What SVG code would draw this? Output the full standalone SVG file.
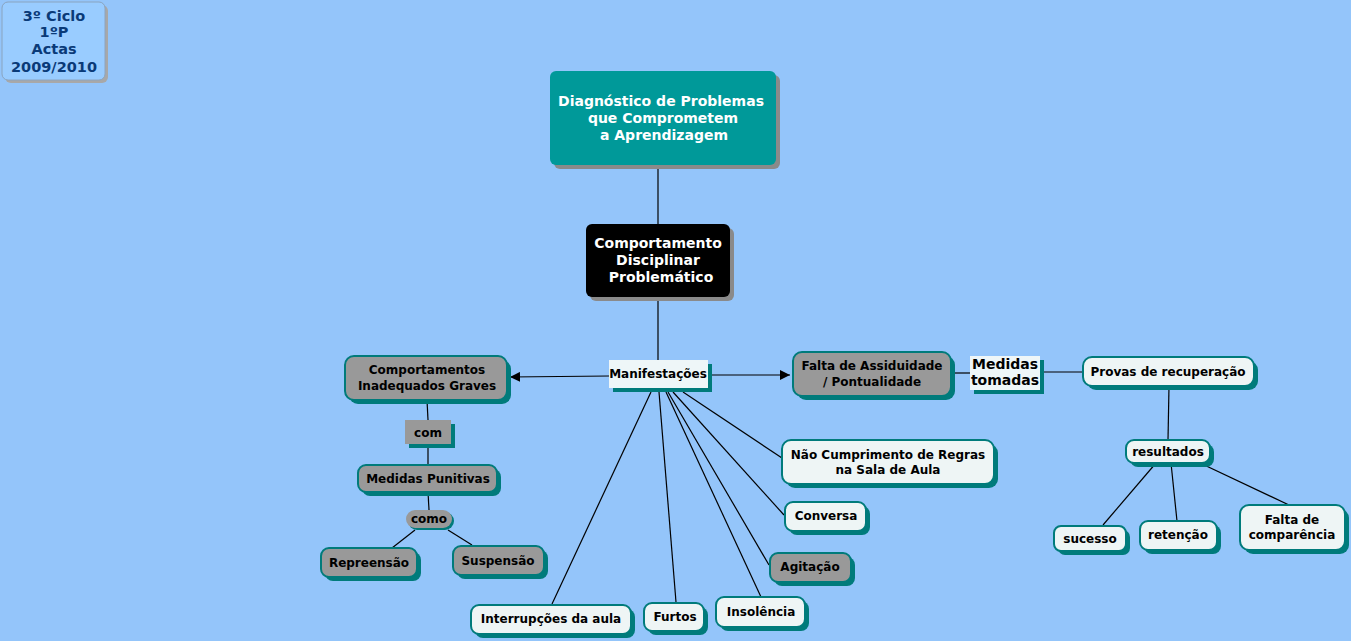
<svg xmlns="http://www.w3.org/2000/svg" width="1351" height="641" viewBox="0 0 1351 641">
<defs>
<style>
text{font-family:"DejaVu Sans",Verdana,sans-serif;font-weight:bold;text-anchor:middle}
.t{font-size:12px;fill:#000}
.w{font-size:14px;fill:#fff}
.n{fill:#eef5f5;stroke:#007b7b;stroke-width:2}
.g{fill:#999999;stroke:#007b7b;stroke-width:2}
.sh{fill:#007b7b}
.gs{fill:#8a8a8a}
.c line{stroke:#000;stroke-width:1.2}
</style>
<marker id="ar" viewBox="0 0 10 10" refX="10" refY="5" markerWidth="10" markerHeight="10" markerUnits="userSpaceOnUse" orient="auto"><path d="M0,0L10,5L0,10z" fill="#000"/></marker>
</defs>
<rect width="1351" height="641" fill="#94c5fa"/>

<g id="connectors" class="c">
<line x1="658" y1="165" x2="658" y2="224"/>
<line x1="658" y1="297" x2="658" y2="360"/>
<line x1="609" y1="376" x2="510" y2="377" marker-end="url(#ar)"/>
<line x1="708" y1="375" x2="790" y2="375" marker-end="url(#ar)"/>
<line x1="951" y1="373" x2="972" y2="373"/>
<line x1="1040" y1="372" x2="1083" y2="372"/>
<line x1="1169" y1="386" x2="1168" y2="440"/>
<line x1="1156" y1="463" x2="1103" y2="525"/>
<line x1="1171" y1="463" x2="1177" y2="521"/>
<line x1="1200" y1="463" x2="1289" y2="505"/>
<line x1="427" y1="400" x2="428" y2="420"/>
<line x1="428" y1="444" x2="428" y2="465"/>
<line x1="428" y1="492" x2="429" y2="510"/>
<line x1="415" y1="530" x2="392" y2="548"/>
<line x1="448" y1="530" x2="472" y2="545"/>
<line x1="651" y1="392" x2="552" y2="604"/>
<line x1="659" y1="392" x2="676" y2="602"/>
<line x1="666" y1="392" x2="761" y2="597"/>
<line x1="668" y1="392" x2="769" y2="565"/>
<line x1="673" y1="392" x2="784" y2="515"/>
<line x1="683" y1="392" x2="782" y2="458"/>
</g>

<g id="header">
<rect x="5" y="5" width="103" height="78" rx="6" fill="#a8a8a8"/>
<rect x="2" y="2" width="103" height="78" rx="6" fill="#99ccff" stroke="#8aa4c0" stroke-width="1"/>
<text x="54" y="21" style="font-size:14.5px;fill:#0a3a78">3º Ciclo</text>
<text x="54" y="37" style="font-size:14.5px;fill:#0a3a78">1ºP</text>
<text x="54" y="54" style="font-size:14.5px;fill:#0a3a78">Actas</text>
<text x="54" y="72" style="font-size:14.5px;fill:#0a3a78">2009/2010</text>
</g>

<g id="diagnostico">
<rect class="gs" x="554" y="75" width="226" height="94" rx="6"/>
<rect x="550" y="71" width="226" height="94" rx="6" fill="#009999"/>
<text class="w" x="661" y="106">Diagnóstico de Problemas</text>
<text class="w" x="663" y="123">que Comprometem</text>
<text class="w" x="664" y="140">a Aprendizagem</text>
</g>

<g id="comportamento">
<rect class="gs" x="590" y="228" width="144" height="73" rx="6"/>
<rect x="586" y="224" width="144" height="73" rx="6" fill="#000"/>
<text class="w" x="658" y="248">Comportamento</text>
<text class="w" x="658" y="265">Disciplinar</text>
<text class="w" x="661" y="282">Problemático</text>
</g>

<g id="manifestacoes">
<rect class="sh" x="613" y="364" width="99" height="28"/>
<rect x="609" y="360" width="99" height="28" fill="#eef6f8"/>
<text class="t" x="658" y="378">Manifestações</text>
</g>

<g id="inadequados">
<rect class="sh" x="349" y="360" width="162" height="44" rx="9"/>
<rect class="g" x="345" y="356" width="162" height="44" rx="9"/>
<text class="t" x="427" y="374">Comportamentos</text>
<text class="t" x="427" y="390">Inadequados Graves</text>
</g>

<g id="com">
<rect class="sh" x="409" y="424" width="46" height="24"/>
<rect x="405" y="420" width="46" height="24" fill="#999999"/>
<text class="t" x="428" y="437">com</text>
</g>

<g id="punitivas">
<rect class="sh" x="362" y="469" width="139" height="27" rx="8"/>
<rect class="g" x="358" y="465" width="139" height="27" rx="8"/>
<text class="t" x="428" y="483">Medidas Punitivas</text>
</g>

<g id="como">
<rect class="sh" x="408" y="512" width="46" height="18" rx="9"/>
<rect x="406" y="510" width="46" height="18" rx="9" fill="#999999"/>
<text class="t" x="429" y="523">como</text>
</g>

<g id="repreensao">
<rect class="sh" x="325" y="552" width="96" height="29" rx="8"/>
<rect class="g" x="321" y="548" width="96" height="29" rx="8"/>
<text class="t" x="369" y="567">Repreensão</text>
</g>

<g id="suspensao">
<rect class="sh" x="457" y="550" width="91" height="29" rx="8"/>
<rect class="g" x="453" y="546" width="91" height="29" rx="8"/>
<text class="t" x="498" y="565">Suspensão</text>
</g>

<g id="falta-assiduidade">
<rect class="sh" x="797" y="356" width="158" height="44" rx="9"/>
<rect class="g" x="793" y="352" width="158" height="44" rx="9"/>
<text class="t" x="872" y="370">Falta de Assiduidade</text>
<text class="t" x="872" y="386">/ Pontualidade</text>
</g>

<g id="medidas-tomadas">
<rect class="sh" x="974" y="360" width="70" height="34"/>
<rect x="970" y="356" width="70" height="34" fill="#eef6f8"/>
<text x="1005" y="369" style="font-size:14px">Medidas</text>
<text x="1005" y="385" style="font-size:14px">tomadas</text>
</g>

<g id="provas">
<rect class="sh" x="1087" y="361" width="171" height="29" rx="9"/>
<rect class="n" x="1083" y="357" width="171" height="29" rx="9"/>
<text class="t" x="1168" y="376">Provas de recuperação</text>
</g>

<g id="resultados">
<rect class="sh" x="1130" y="444" width="84" height="23" rx="8"/>
<rect class="n" x="1126" y="440" width="84" height="23" rx="8"/>
<text class="t" x="1168" y="456">resultados</text>
</g>

<g id="sucesso">
<rect class="sh" x="1058" y="530" width="72" height="25" rx="7"/>
<rect class="n" x="1054" y="526" width="72" height="25" rx="7"/>
<text class="t" x="1090" y="543">sucesso</text>
</g>

<g id="retencao">
<rect class="sh" x="1144" y="525" width="77" height="29" rx="8"/>
<rect class="n" x="1140" y="521" width="77" height="29" rx="8"/>
<text class="t" x="1178" y="539">retenção</text>
</g>

<g id="falta-comparencia">
<rect class="sh" x="1244" y="509" width="105" height="45" rx="9"/>
<rect class="n" x="1240" y="505" width="105" height="45" rx="9"/>
<text class="t" x="1292" y="524">Falta de</text>
<text class="t" x="1292" y="539">comparência</text>
</g>

<g id="nao-cumprimento">
<rect class="sh" x="786" y="444" width="212" height="44" rx="9"/>
<rect class="n" x="782" y="440" width="212" height="44" rx="9"/>
<text class="t" x="888" y="459">Não Cumprimento de Regras</text>
<text class="t" x="888" y="474">na Sala de Aula</text>
</g>

<g id="conversa">
<rect class="sh" x="789" y="506" width="81" height="29" rx="8"/>
<rect class="n" x="785" y="502" width="81" height="29" rx="8"/>
<text class="t" x="826" y="520">Conversa</text>
</g>

<g id="agitacao">
<rect class="sh" x="774" y="557" width="81" height="29" rx="8"/>
<rect class="g" x="770" y="553" width="81" height="29" rx="8"/>
<text class="t" x="810" y="571">Agitação</text>
</g>

<g id="insolencia">
<rect class="sh" x="720" y="601" width="89" height="30" rx="8"/>
<rect class="n" x="716" y="597" width="89" height="30" rx="8"/>
<text class="t" x="761" y="616">Insolência</text>
</g>

<g id="furtos">
<rect class="sh" x="648" y="607" width="60" height="28" rx="8"/>
<rect class="n" x="644" y="603" width="60" height="28" rx="8"/>
<text class="t" x="675" y="621">Furtos</text>
</g>

<g id="interrupcoes">
<rect class="sh" x="475" y="609" width="160" height="29" rx="8"/>
<rect class="n" x="471" y="605" width="160" height="29" rx="8"/>
<text class="t" x="551" y="623">Interrupções da aula</text>
</g>
</svg>
